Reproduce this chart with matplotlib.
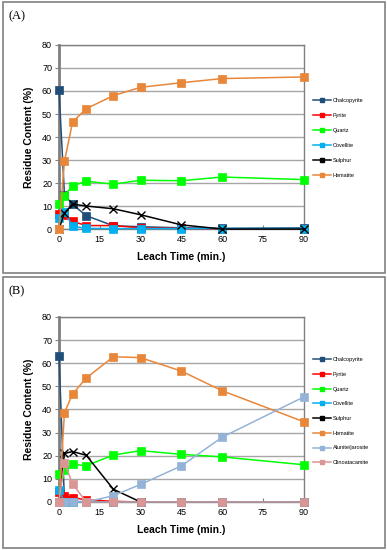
import matplotlib.pyplot as plt
from matplotlib.patches import Rectangle
from matplotlib.lines import Line2D

plt.rcParams['font.family'] = ['Liberation Sans', 'DejaVu Sans']

# leach times (min.)
time_a = [0, 2, 5, 10, 20, 30, 45, 60, 90]
time_b = [0, 2, 5, 10, 20, 30, 45, 60, 90]

# panel A residue content (%)
chalco_a = [60.3, 14.8, 10.7, 5.8, 1.4, 1.0, 0.5, 0.3, 0.5]
pyrite_a = [6.5, 6.0, 3.3, 1.5, 1.5, 0.5, 0.3, 0.0, 0.0]
quartz_a = [11.0, 14.5, 18.8, 20.8, 19.5, 21.2, 21.0, 22.6, 21.5]
covell_a = [5.0, 7.5, 1.2, 0.3, 0.2, 0.2, 0.2, 0.2, 0.2]
sulphur_a = [0.0, 7.0, 10.8, 10.0, 8.8, 6.2, 1.8, 0.0, 0.0]
hemat_a = [0.0, 29.5, 46.5, 52.3, 58.0, 61.6, 63.6, 65.4, 66.1]

# panel B residue content (%)
chalco_b = [63.0, 0.5, 0.2, 0.1, 0.0, 0.0, 0.0, 0.0, 0.0]
pyrite_b = [4.3, 2.7, 1.9, 0.9, 0.3, 0.0, 0.0, 0.0, 0.0]
quartz_b = [12.1, 13.8, 16.3, 15.7, 20.3, 22.2, 20.6, 19.5, 16.1]
covell_b = [5.2, 0.0, 0.0, 0.0, 0.0, 0.0, 0.0, 0.0, 0.0]
sulphur_b = [0.0, 21.0, 21.8, 20.2, 5.5, 0.0]
hemat_b = [0.0, 38.6, 46.7, 53.6, 62.8, 62.4, 56.6, 48.1, 34.7]
alunite_b = [0.0, 0.0, 0.0, 0.0, 2.7, 7.6, 15.6, 28.0, 45.4]
clino_b = [0.0, 17.0, 7.8, 0.0, 0.0, 0.0, 0.0, 0.0, 0.0]

names = ['Chalcopyrite', 'Pyrite', 'Quartz', 'Covellite', 'Sulphur', 'Hematite',
         'Alunite/jarosite', 'Clinoatacamite']
colors = ['#1F4E79', '#FF0000', '#00FF00', '#00B0F0', '#000000', '#E8863A',
          '#95B3D7', '#D99694']

fig = plt.figure(figsize=(3.87, 5.5), dpi=100)


def draw_panel(rect, times, series, n, label, box, leg_top, leg_space):
    ax = fig.add_axes(rect)
    handles = []
    for i, ys in enumerate(series):
        mk = 'x' if names[i] == 'Sulphur' else 's'
        ax.plot(times[:len(ys)], ys, color=colors[i], lw=1.1, marker=mk,
                markersize=5.5, markeredgewidth=1 if mk == 'x' else 0.5,
                clip_on=False, zorder=3 + i)
        handles.append(Line2D([], [], color=colors[i], lw=1.1, marker='s', markersize=2.5))
    ax.set_xlim(0, 90)
    ax.set_ylim(0, 80)
    ax.set_xticks(range(0, 91, 15))
    ax.set_yticks(range(0, 81, 10))
    ax.grid(axis='y', color='#A6A6A6', lw=1.0)
    ax.set_axisbelow(True)
    for s in ['top', 'right', 'bottom']:
        ax.spines[s].set_color('#808080')
        ax.spines[s].set_linewidth(1.0)
    ax.spines['left'].set_color('#7F7F7F')
    ax.spines['left'].set_linewidth(2.0)
    ax.tick_params(axis='x', direction='in', length=3, color='#808080', labelsize=6.5, pad=4)
    ax.tick_params(axis='y', direction='out', length=3, color='#808080', labelsize=6.5, pad=2)
    ax.set_xlabel('Leach Time (min.)', fontsize=7.5, fontweight='bold', labelpad=6)
    ax.set_ylabel('Residue Content (%)', fontsize=7.5, fontweight='bold', labelpad=6)
    ax.legend(handles, names[:n], loc='upper left', bbox_to_anchor=(1.03, leg_top),
              frameon=False, fontsize=4, handlelength=3.2, handletextpad=0.3,
              labelspacing=leg_space, borderaxespad=0)
    # panel frame and letter
    fig.patches.append(Rectangle((box[0], box[1]), box[2], box[3], transform=fig.transFigure,
                                 fill=False, edgecolor='#808080', lw=1.2))
    fig.text(box[0] + 0.015, box[1] + box[3] - 0.025, label, fontsize=9,
             family='Liberation Serif', va='center', ha='left')
    return ax


draw_panel([0.1525, 0.5836, 0.6323, 0.3346], time_a,
           [chalco_a, pyrite_a, quartz_a, covell_a, sulphur_a, hemat_a], 6, '(A)',
           (0.008, 0.504, 0.987, 0.492), 0.725, 1.8)
draw_panel([0.1525, 0.0873, 0.6323, 0.3364], time_b,
           [chalco_b, pyrite_b, quartz_b, covell_b, sulphur_b, hemat_b, alunite_b, clino_b], 8, '(B)',
           (0.008, 0.004, 0.987, 0.492), 0.795, 1.75)

fig.savefig('out.png', dpi=100)
